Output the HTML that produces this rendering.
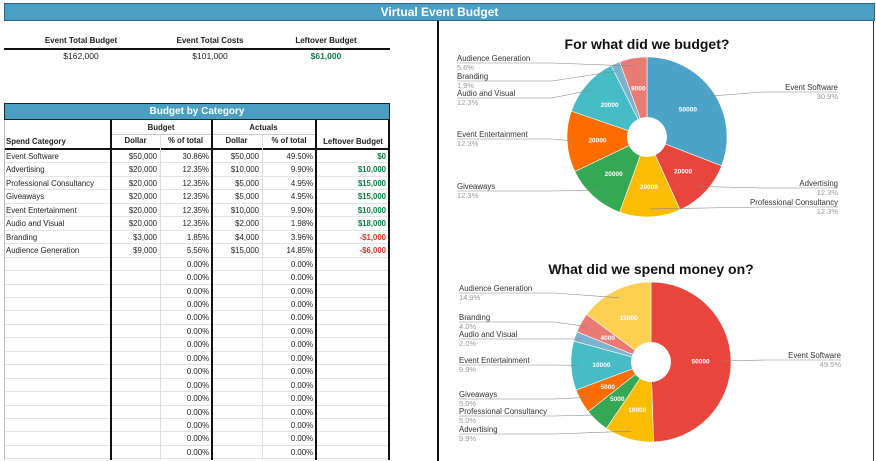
<!DOCTYPE html>
<html><head><meta charset="utf-8">
<style>
*{margin:0;padding:0;box-sizing:border-box}
body{width:876px;height:460px;background:#fff;position:relative;overflow:hidden;font-family:"Liberation Sans",Arial,sans-serif;color:#222}
.a{position:absolute;white-space:nowrap}
.bar{background:#4a9fc2;color:#fff;font-weight:bold;text-align:center}
.c{position:absolute;font-size:7.8px;line-height:13px;white-space:nowrap}
.r{text-align:right}
.g{color:#0b8043;font-weight:bold}
.n{color:#d23b2c;font-weight:bold}
</style></head><body>
<div class="a bar" style="left:4px;top:3px;width:871px;height:18px;font-size:12px;line-height:16px;border:1px solid #2a6a85">Virtual Event Budget</div>

<div class="a" style="left:30px;top:36px;width:102px;text-align:center;font-size:8px;font-weight:bold">Event Total Budget</div>
<div class="a" style="left:160px;top:36px;width:100px;text-align:center;font-size:8px;font-weight:bold">Event Total Costs</div>
<div class="a" style="left:276px;top:36px;width:100px;text-align:center;font-size:8px;font-weight:bold">Leftover Budget</div>
<div class="a" style="left:4px;top:48px;width:386px;height:2px;background:#111"></div>
<div class="a" style="left:30px;top:51px;width:102px;text-align:center;font-size:8.5px">$162,000</div>
<div class="a" style="left:160px;top:51px;width:100px;text-align:center;font-size:8.5px">$101,000</div>
<div class="a g" style="left:276px;top:51px;width:100px;text-align:center;font-size:8.5px">$61,000</div>

<div class="a bar" style="left:4px;top:103px;width:386px;height:17px;font-size:10px;line-height:15px;border:1px solid #222">Budget by Category</div>
<div id="tbl" class="a" style="left:4px;top:120px;width:386px;height:340px"></div>

<div class="a" style="left:437px;top:21px;width:437px;height:440px;border-left:2px solid #111;border-right:1px solid #333"></div>
<svg id="sv" class="a" style="left:0;top:0" width="876" height="460"></svg>

<script>
// ---- table data ----
const cats=["Event Software","Advertising","Professional Consultancy","Giveaways","Event Entertainment","Audio and Visual","Branding","Audience Generation"];
const budgetDollar=["$50,000","$20,000","$20,000","$20,000","$20,000","$20,000","$3,000","$9,000"];
const budgetPct=["30.86%","12.35%","12.35%","12.35%","12.35%","12.35%","1.85%","5.56%"];
const actualDollar=["$50,000","$10,000","$5,000","$5,000","$10,000","$2,000","$4,000","$15,000"];
const actualPct=["49.50%","9.90%","4.95%","4.95%","9.90%","1.98%","3.96%","14.85%"];
const leftover=["$0","$10,000","$15,000","$15,000","$10,000","$18,000","-$1,000","-$6,000"];

const T=document.getElementById('tbl');
function cell(x,y,w,txt,cls,name){const d=document.createElement('div');d.className='c '+(cls||'');d.style.left=x+'px';d.style.top=y+'px';d.style.width=w+'px';d.textContent=txt;


T.appendChild(d);return d;}
function ln(x,y,w,h,c,name){const d=document.createElement('div');d.style.cssText='position:absolute;left:'+x+'px;top:'+y+'px;width:'+w+'px;height:'+h+'px;background:'+c;


T.appendChild(d);}
// header
let h1=cell(107,1,100,"Budget","","budget-header");h1.style.textAlign='center';h1.style.fontWeight='bold';
let h2=cell(207,1,105,"Actuals","","actuals-header");h2.style.textAlign='center';h2.style.fontWeight='bold';
let h3=cell(2,15,100,"Spend Category","","spend-category-header");h3.style.fontWeight='bold';
let h4=cell(107,14,49,"Dollar","","budget-dollar-header");h4.style.textAlign='center';h4.style.fontWeight='bold';
let h5=cell(156,14,51,"% of total","","budget-pct-header");h5.style.textAlign='center';h5.style.fontWeight='bold';
let h6=cell(207,14,51,"Dollar","","actual-dollar-header");h6.style.textAlign='center';h6.style.fontWeight='bold';
let h7=cell(258,14,54,"% of total","","actual-pct-header");h7.style.textAlign='center';h7.style.fontWeight='bold';
let h8=cell(312,15,74,"Leftover Budget","","leftover-header");h8.style.textAlign='center';h8.style.fontWeight='bold';
ln(107,14,205,1,'#ccc','header-divider');
ln(0,28,386,2,'#111','header-bottom-line');
const RH=13.45;
for(let i=0;i<23;i++){
  const y=30+i*RH;
  ln(0,y+RH-1,386,1,'#e3e3e3','row-line');
  if(i<cats.length){
    cell(2,y,105,cats[i],"","category-name");
    cell(107,y,46,budgetDollar[i],"r","budget-dollar");
    cell(156,y,49,budgetPct[i],"r","budget-pct");
    cell(207,y,48,actualDollar[i],"r","actual-dollar");
    cell(258,y,51,actualPct[i],"r","actual-pct");
    cell(312,y,70,leftover[i],"r "+(leftover[i][0]=='-'?'n':'g'),"leftover-value");
  } else {
    cell(156,y,49,"0.00%","r","budget-pct");
    cell(258,y,51,"0.00%","r","actual-pct");
  }
}
ln(0,0,1,340,'#bbb','table-left-border');
ln(106,0,2,340,'#111','col-border');
ln(156,14,1,326,'#ddd','col-border-light');
ln(207,0,2,340,'#111','col-border');
ln(258,14,1,326,'#ddd','col-border-light');
ln(311,0,2,340,'#111','col-border');
ln(384,0,2,340,'#111','col-border');

// ---- pie data ----
const pieLabels=["Event Software","Advertising","Professional Consultancy","Giveaways","Event Entertainment","Audio and Visual","Branding","Audience Generation"];
const budgetValues=[50000,20000,20000,20000,20000,20000,3000,9000];
const budgetPctLabels=["30.9%","12.3%","12.3%","12.3%","12.3%","12.3%","1.9%","5.6%"];
const spendValues=[50000,10000,5000,5000,10000,2000,4000,15000];
const spendPctLabels=["49.5%","9.9%","5.0%","5.0%","9.9%","2.0%","4.0%","14.9%"];

const NS='http://www.w3.org/2000/svg';const S=document.getElementById('sv');
function el(t,a,name,txt){const e=document.createElementNS(NS,t);for(const k in a)e.setAttribute(k,a[k]);


if(txt!==undefined)e.textContent=txt;S.appendChild(e);return e;}

function pie(cx,cy,r,ri,vals,colors,title,ty,pcts,labelPos,name){
  el('text',{x:cx,y:ty,'text-anchor':'middle','font-size':14,'font-weight':'bold',fill:'#111','font-family':'Liberation Sans'},name+'-title',title);
  const tot=vals.reduce((a,b)=>a+b,0);let a0=0;
  vals.forEach((v,i)=>{
    const a1=a0+v/tot*2*Math.PI;
    const p=(a,rr)=>[cx+rr*Math.sin(a),cy-rr*Math.cos(a)];
    const [x0,y0]=p(a0,r),[x1,y1]=p(a1,r);const lg=(a1-a0)>Math.PI?1:0;
    el('path',{d:`M${cx},${cy}L${x0},${y0}A${r},${r} 0 ${lg} 1 ${x1},${y1}Z`,fill:colors[i],stroke:'#fff','stroke-width':0.6},name+'-slice');
    const am=(a0+a1)/2;
    if(v/tot>0.03){const [lx,ly]=p(am,r*0.62);
      el('text',{x:lx,y:ly+2.5,'text-anchor':'middle','font-size':6.5,'font-weight':'bold',fill:'#fff','font-family':'Liberation Sans'},name+'-value-label',String(v));}
    const lp=labelPos[i];const [ex,ey]=p(am,r*0.9);
    const right=lp[0]>cx;
    el('polyline',{points:`${ex},${ey} ${right?lp[0]-75:lp[0]+95},${lp[1]+2} ${lp[0]},${lp[1]+2}`,fill:'none',stroke:'#888','stroke-width':0.6},name+'-leader');
    el('text',{x:lp[0],y:lp[1],'text-anchor':right?'end':'start','font-size':7.8,fill:'#333','font-family':'Liberation Sans'},name+'-legend-label',pieLabels[i]);
    el('text',{x:lp[0],y:lp[1]+9,'text-anchor':right?'end':'start','font-size':7.5,fill:'#999','font-family':'Liberation Sans'},name+'-legend-pct',pcts[i]);
    a0=a1;
  });
  el('circle',{cx:cx,cy:cy,r:ri,fill:'#fff'},name+'-hole');
}
pie(647,137,80,20,budgetValues,['#4ba3c8','#e8453c','#fbbc04','#34a853','#ff6d01','#46bdc6','#7bb3cf','#ea7a74'],
 'For what did we budget?',49,budgetPctLabels,
 [[838,90],[838,186],[838,205],[457,189],[457,137],[457,96],[457,79],[457,61]],'budget-pie');
pie(651,362,80,20,spendValues,['#e8453c','#fbbc04','#34a853','#ff6d01','#46bdc6','#7bb3cf','#ea7a74','#fdd052'],
 'What did we spend money on?',274,spendPctLabels,
 [[841,358],[459,432],[459,414],[459,397],[459,363],[459,337],[459,320],[459,291]],'spend-pie');
</script>
</body></html>
